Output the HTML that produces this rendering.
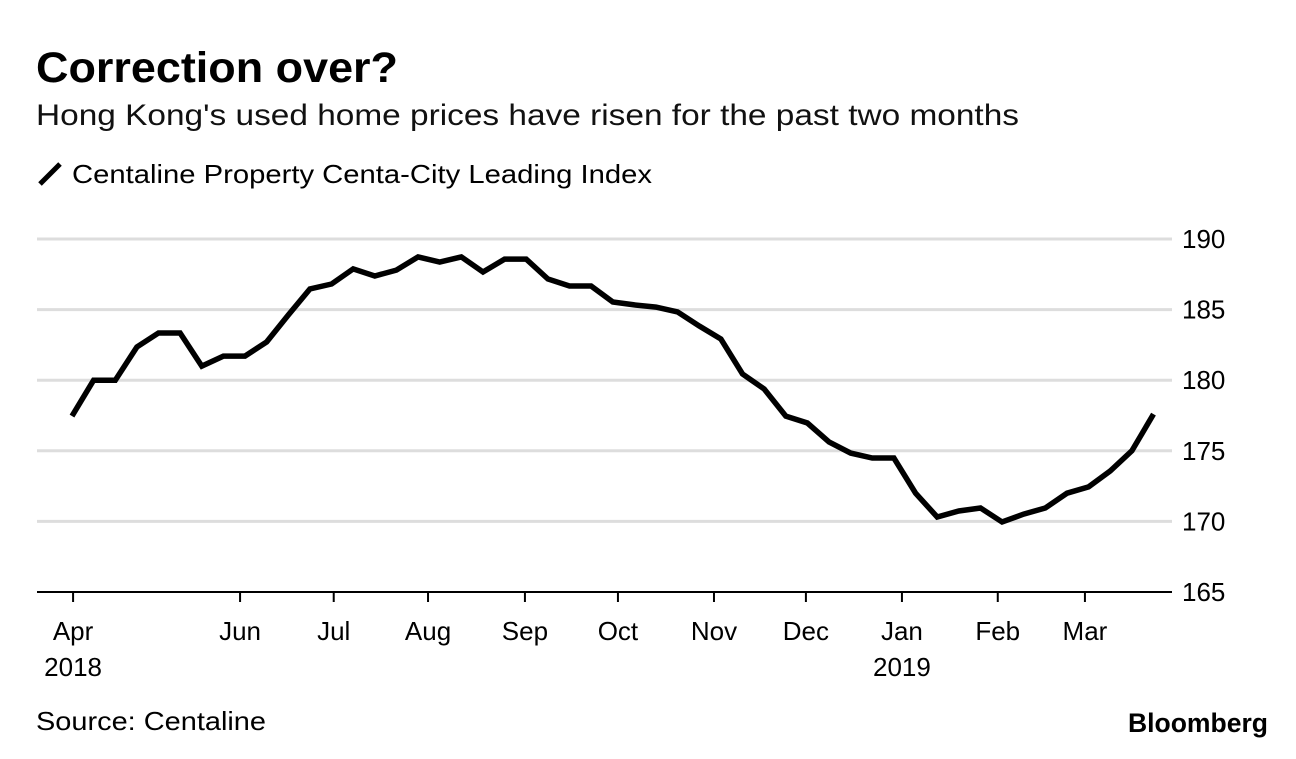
<!DOCTYPE html>
<html><head><meta charset="utf-8"><style>
body{margin:0;background:#fff;width:1296px;height:754px;overflow:hidden;font-family:"Liberation Sans",sans-serif}
</style></head><body>
<svg width="1296" height="754" xmlns="http://www.w3.org/2000/svg" font-family="Liberation Sans, sans-serif">
<text x="36" y="82" font-size="43" font-weight="bold" textLength="362" lengthAdjust="spacingAndGlyphs">Correction over?</text>
<text x="36" y="125" font-size="30" fill="#111" textLength="983" lengthAdjust="spacingAndGlyphs">Hong Kong's used home prices have risen for the past two months</text>
<line x1="40" y1="184" x2="60" y2="164" stroke="#000" stroke-width="5"/>
<text x="72" y="183" font-size="26" textLength="580" lengthAdjust="spacingAndGlyphs">Centaline Property Centa-City Leading Index</text>
<g id="grid"></g><g id="ticks"></g>
<path id="line" fill="none" stroke="#000" stroke-width="5.5" stroke-linejoin="miter"/>
<text x="36" y="730" font-size="26" textLength="230" lengthAdjust="spacingAndGlyphs">Source: Centaline</text>
<text x="1268" y="732" font-size="27" font-weight="bold" text-anchor="end" textLength="140" lengthAdjust="spacingAndGlyphs">Bloomberg</text>
</svg>
<script>
const values=[177.46,180.0,180.0,182.35,183.34,183.34,181.0,181.71,181.71,182.71,184.62,186.46,186.81,187.88,187.38,187.8,188.73,188.37,188.73,187.66,188.58,188.58,187.17,186.67,186.67,185.54,185.33,185.18,184.83,183.84,182.92,180.44,179.38,177.46,176.97,175.62,174.84,174.49,174.49,172.0,170.31,170.74,170.95,169.96,170.52,170.95,172.0,172.44,173.57,175.0,177.6];
const yTicks=[165,170,175,180,185,190];
const monthLabels=["Apr","Jun","Jul","Aug","Sep","Oct","Nov","Dec","Jan","Feb","Mar"];
const monthIdx=[0.05,7.77,12.1,16.46,20.94,25.24,29.68,33.93,38.37,42.8,46.83];
const yearLabels=["2018","","","","","","","","2019","",""];
const NS="http://www.w3.org/2000/svg";
const xs=i=>72+i*21.63;
const ys=v=>592-(v-165)*14.12;
const grid=document.getElementById('grid');
yTicks.forEach(t=>{
 const l=document.createElementNS(NS,'line');
 l.setAttribute('x1',37);l.setAttribute('x2',1172);l.setAttribute('y1',ys(t));l.setAttribute('y2',ys(t));
 l.setAttribute('stroke',t===165?'#000':'#ddd');l.setAttribute('stroke-width',t===165?2:3);
 
 
 grid.appendChild(l);
 const tx=document.createElementNS(NS,'text');
 tx.setAttribute('x',1182);tx.setAttribute('y',ys(t)+9);tx.setAttribute('font-size','26');
 tx.textContent=t;
 
 
 grid.appendChild(tx);
});
const tk=document.getElementById('ticks');
monthLabels.forEach((m,k)=>{
 const x=xs(monthIdx[k]);
 const l=document.createElementNS(NS,'line');
 l.setAttribute('x1',x);l.setAttribute('x2',x);l.setAttribute('y1',592);l.setAttribute('y2',602);
 l.setAttribute('stroke','#000');l.setAttribute('stroke-width',2);
 
 
 tk.appendChild(l);
 const t=document.createElementNS(NS,'text');
 t.setAttribute('x',x);t.setAttribute('y',640);t.setAttribute('font-size','26');t.setAttribute('text-anchor','middle');
 t.textContent=m;
 
 
 tk.appendChild(t);
 if(yearLabels[k]){
  const y=document.createElementNS(NS,'text');
  y.setAttribute('x',x);y.setAttribute('y',676);y.setAttribute('font-size','26');y.setAttribute('text-anchor','middle');
  y.textContent=yearLabels[k];
  
  
  tk.appendChild(y);
 }
});
document.getElementById('line').setAttribute('d',values.map((v,i)=>(i?'L':'M')+xs(i).toFixed(1)+','+ys(v).toFixed(1)).join(''));
</script>
</body></html>
